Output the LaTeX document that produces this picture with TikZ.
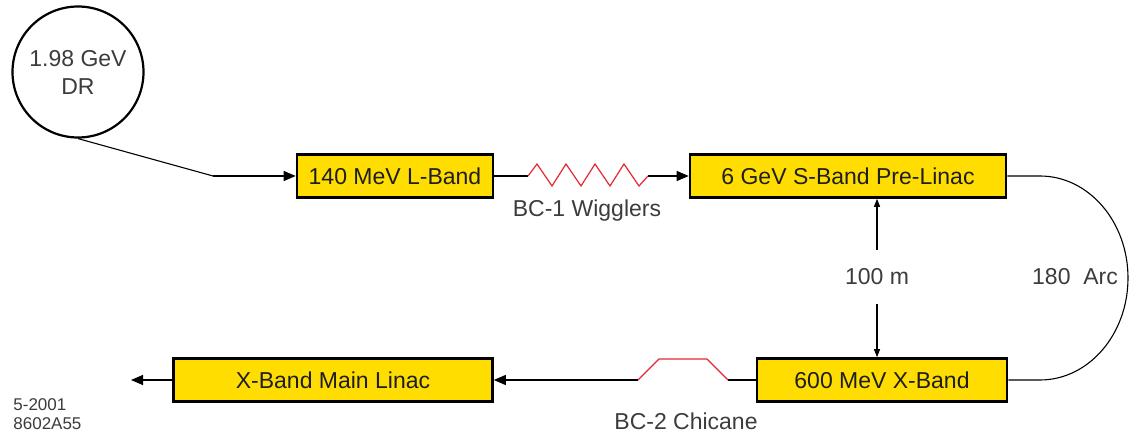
\documentclass[tikz,border=0pt]{standalone}
\usepackage{fontspec}
\setmainfont{Liberation Sans}
\usetikzlibrary{arrows.meta,positioning}
\definecolor{ink}{RGB}{30,30,30}
\definecolor{txt}{RGB}{60,60,60}
\definecolor{cYel}{RGB}{255,221,0}
\definecolor{cKick}{RGB}{228,40,52}
\tikzset{
  linac/.style={draw=black,line width=1.3pt,fill=cYel,inner sep=0pt,
    minimum height=21.5pt,font=\fontsize{11.5}{13}\selectfont,text=ink},
  dring/.style={circle,draw=black,line width=1.1pt,minimum size=65.5pt,
    inner sep=0pt,align=center,font=\fontsize{11.5}{14}\selectfont,text=txt},
  ar/.style={-{Triangle[length=6pt,width=5pt]},line width=0.55pt},
  sar/.style={-{Triangle[length=4pt,width=3pt]},line width=0.55pt,shorten <=8pt},
  tag/.style={font=\fontsize{11.5}{13}\selectfont,text=txt,inner sep=1pt},
  kick/.style={cKick,line width=0.6pt},
}

\begin{document}
\begin{tikzpicture}[x=0.5pt,y=-0.5pt]
  \path[fill=white,use as bounding box] (0,0) rectangle (1130,438);
  % damping ring and injector
  \node[dring] (dr) at (78,72) {1.98 GeV\\DR};
  \node[linac,minimum width=98pt] (lband) at (395,176) {140 MeV L-Band};
  \node[linac,minimum width=158pt] (sband) at (848,176) {6 GeV S-Band Pre-Linac};
  \node[linac,minimum width=125pt] (xband) at (882,380) {600 MeV X-Band};
  \node[linac,minimum width=159.5pt] (main) at (333,380) {X-Band Main Linac};
  % labels
  \node[tag] (bc1) at (587,211) {BC-1 Wigglers};
  \node[tag] (bc2) at (686,421) {BC-2 Chicane};
  \node[tag] (dist) at (877,277) {100 m};
  \node[tag] (arc) at (1075,277) {180\ \ Arc};
  \node[tag,font=\fontsize{8.5}{9.5}\selectfont,align=left,anchor=west] (fig) at (11,414) {5-2001\\8602A55};
  % points on the beam line
  \coordinate (bend) at (213,176);
  \coordinate (wigA) at (528,176);
  \coordinate (wigB) at (648,176);
  \coordinate (arcA) at (1040,176);
  \coordinate (chA) at (728,380);
  \coordinate (chB) at (638,380);
  \coordinate (exit) at (131,380);
  % beam line
  \draw[line width=0.55pt] (dr.south) -- (bend);
  \draw[ar] (bend) -- (lband.west);
  \draw[line width=0.55pt] (lband.east) -- (wigA);
  \draw[kick] (wigA) \foreach \i in {0,...,3} { -- (537+29*\i,164) -- (552+29*\i,186) } -- (wigB);
  \draw[ar] (wigB) -- (sband.west);
  \draw[line width=0.55pt] (sband.east) -- (arcA)
    arc[start angle=90,end angle=-90,x radius=44pt,y radius=51pt] -- (xband.east);
  \draw[line width=0.55pt] (xband.west) -- (chA);
  \draw[kick] (chA) -- ++(-21,-21) -- ++(-48,0) -- (chB);
  \draw[ar] (chB) -- (main.east);
  \draw[ar] (main.west) -- (exit);
  % spacing of the two linacs
  \draw[sar] (dist) -- (dist |- sband.south);
  \draw[sar] (dist) -- (dist |- xband.north);
\end{tikzpicture}
\end{document}
